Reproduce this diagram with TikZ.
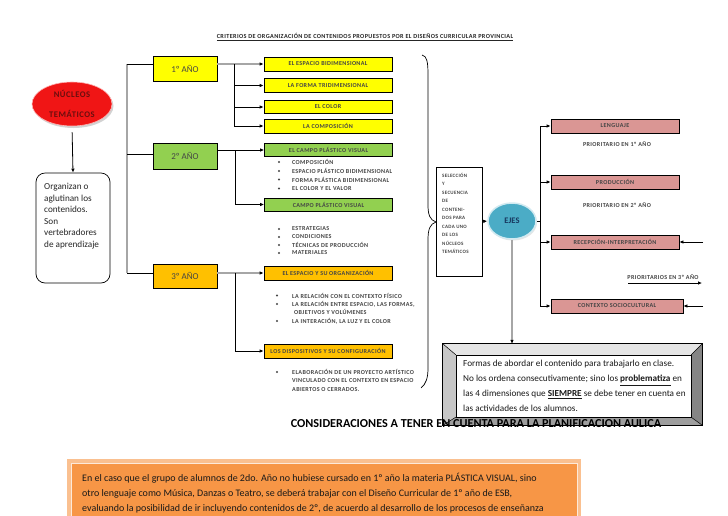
\documentclass[tikz,border=0pt]{standalone}
\usepackage{fontspec}
\setmainfont{Carlito}
\newfontfamily\capsf[LetterSpace=6]{Carlito}
\usetikzlibrary{arrows.meta,shapes.geometric,shadows,calc}
\definecolor{cyel}{HTML}{FFFF00}
\definecolor{cgrn}{HTML}{92D050}
\definecolor{corg}{HTML}{FFC000}
\definecolor{cpnk}{HTML}{DA9694}
\definecolor{cred}{HTML}{F01515}
\definecolor{cdred}{HTML}{6A0E0E}
\definecolor{cblu}{HTML}{4BACC6}
\definecolor{cnavy}{HTML}{17375E}
\definecolor{ctxt}{HTML}{454545}
\definecolor{cgray}{HTML}{A6A6A6}
\definecolor{corb}{HTML}{F79646}
\definecolor{cpeach}{HTML}{FAC090}
\definecolor{clight}{HTML}{FDE9D9}
\tikzset{
  tiny/.style={font=\capsf\bfseries\fontsize{6.1}{7}\selectfont, text=ctxt},
  cbox/.style={draw=black, line width=0.8pt, minimum width=128pt, minimum height=14pt, inner sep=0pt, tiny},
  ybox/.style={cbox, fill=cyel},
  gbox/.style={cbox, fill=cgrn},
  obox/.style={cbox, fill=corg},
  pbox/.style={cbox, fill=cpnk},
  yearbox/.style={draw=black, line width=0.8pt, minimum width=64pt, minimum height=25pt, inner sep=0pt, font=\fontsize{9}{10}\selectfont, text=ctxt},
  itm/.style={tiny, anchor=west, inner sep=0pt},
  bul/.style={circle, fill=ctxt, inner sep=0pt, minimum size=2.2pt},
  blk/.style={draw=black, line width=0.8pt},
  grayln/.style={draw=cgray, line width=1.5pt},
  arr/.style={-{Latex[length=4pt,width=3.6pt,color=black]}},
}
\begin{document}
\begin{tikzpicture}[x=1pt,y=-1pt]
\useasboundingbox (0,0) rectangle (728,515);
\clip (0,0) rectangle (728,515);
\fill[white] (0,0) rectangle (728,515);

% title
\node[tiny, font=\capsf\bfseries\fontsize{6.2}{7}\selectfont, text=black!85] (title) at (365,37) {\underline{CRITERIOS DE ORGANIZACIÓN DE CONTENIDOS PROPUESTOS POR EL DISEÑOS CURRICULAR PROVINCIAL}};

% nucleos
\node[ellipse, fill=cred, draw=red!30!white, line width=0.6pt, minimum width=80pt, minimum height=44pt, inner sep=0pt, drop shadow={shadow xshift=1.5pt, shadow yshift=-2pt, fill=black!35}, align=center, font=\capsf\bfseries\fontsize{8.6}{20}\selectfont, text=cdred] (nuc) at (72,104) {NÚCLEOS\\TEMÁTICOS};

\node[draw=black, line width=0.7pt, rounded corners=9pt, minimum width=74pt, minimum height=110pt, inner sep=0pt] (org) at (73,228) {};
\node[anchor=north west, align=left, font=\fontsize{9.2}{11.6}\selectfont, text=black!85, inner sep=0pt] (orgt) at (44,183) {Organizan o\\aglutinan los\\contenidos.\\Son\\vertebradores\\de aprendizaje};
\draw[blk, arr, shorten <=6pt] (nuc.south) -- (org.north);

% year boxes
\coordinate (tA) at (127,64);
\coordinate (tC) at (127,273);
\draw[grayln] (tA) -- (tC);
\node[yearbox, fill=cyel] (yr1) at (185,68.5) {1º AÑO};
\node[yearbox, fill=cgrn, minimum height=26pt] (yr2) at (185,156) {2º AÑO};
\node[yearbox, fill=corg, minimum height=24pt] (yr3) at (185,276) {3º AÑO};
\draw[blk] (tA) -- (tA -| yr1.west);
\draw[blk] ([yshift=2pt]yr2.west) -- ++(-26,0);
\draw[blk] (tC) -- (tC -| yr3.west);

% first year
\node[ybox] (y1) at (328,64) {EL ESPACIO BIDIMENSIONAL};
\node[ybox] (y2) at (328,85.5) {LA FORMA TRIDIMENSIONAL};
\node[ybox, minimum height=12.5pt] (y3) at (328,107) {EL COLOR};
\node[ybox] (y4) at (328,126) {LA COMPOSICIÓN};
\draw[grayln, arr] ([yshift=4.5pt]yr1.east) -- (y1.west);
\coordinate (b1) at (234,64);
\draw[blk, arr] (b1) |- (y4.west);
\draw[blk, arr] (b1 |- y2.west) -- (y2.west);
\draw[blk, arr] (b1 |- y3.west) -- (y3.west);

% second year
\node[gbox, minimum height=13pt] (g1) at (328.5,150) {EL CAMPO PLÁSTICO VISUAL};
\node[gbox, minimum height=13pt] (g2) at (328.5,204.5) {CAMPO PLÁSTICO VISUAL};
\draw[blk, arr] ([yshift=6pt]yr2.east) -- (g1.west);
\coordinate (b2) at (235,150);
\draw[blk, arr] (b2) |- (g2.west);

\node[bul] (u1a) at (279,162) {};
\node[bul] (u1b) at (279,171) {};
\node[bul] (u1c) at (279,179.5) {};
\node[bul] (u1d) at (279,188.5) {};
\node[itm] (l1a) at (292,162) {COMPOSICIÓN};
\node[itm] (l1b) at (292,171) {ESPACIO PLÁSTICO BIDIMENSIONAL};
\node[itm] (l1c) at (292,179.5) {FORMA PLÁSTICA BIDIMENSIONAL};
\node[itm] (l1d) at (292,188.5) {EL COLOR Y EL VALOR};

\node[bul] (u2a) at (279,229) {};
\node[bul] (u2b) at (279,237) {};
\node[bul] (u2c) at (279,245) {};
\node[bul] (u2d) at (279,253) {};
\node[itm] (l2a) at (292,229) {ESTRATEGIAS};
\node[itm] (l2b) at (292,237) {CONDICIONES};
\node[itm] (l2c) at (292,245) {TÉCNICAS DE PRODUCCIÓN};
\node[itm] (l2d) at (292,253) {MATERIALES};

% third year
\node[obox] (o1) at (328,273) {EL ESPACIO Y SU ORGANIZACIÓN};
\node[obox] (o2) at (328,351) {LOS DISPOSITIVOS Y SU CONFIGURACIÓN};
\draw[grayln, arr] ([yshift=3pt]yr3.east) -- (o1.west);
\coordinate (b3) at (235,273);
\draw[blk, arr] (b3) |- (o2.west);

\node[bul] (u3a) at (277,295.5) {};
\node[bul] (u3b) at (277,304) {};
\node[bul] (u3c) at (277,321) {};
\node[itm] (l3a) at (292,295.5) {LA RELACIÓN CON EL CONTEXTO FÍSICO};
\node[itm] (l3b) at (292,304) {LA RELACIÓN ENTRE ESPACIO, LAS FORMAS,};
\node[itm] (l3c) at (294,312) {OBJETIVOS Y VOLÚMENES};
\node[itm] (l3d) at (292,321) {LA INTERACIÓN, LA LUZ Y EL COLOR};

\node[bul] (u4a) at (277,372) {};
\node[itm] (l4a) at (292,372) {ELABORACIÓN DE UN PROYECTO ARTÍSTICO};
\node[itm] (l4b) at (292,380.5) {VINCULADO CON EL CONTEXTO EN ESPACIO};
\node[itm] (l4c) at (292,389.5) {ABIERTOS O CERRADOS.};

% brace
\draw[line width=0.7pt] (422,55) .. controls (427,56) and (428,62) .. (428,75) -- (428,205) .. controls (428,215) and (430,220) .. (436,222) .. controls (430,224) and (428,229) .. (428,240) -- (428,368) .. controls (428,378) and (426,384) .. (421,388);

% selection
\node[draw=black, line width=0.8pt, minimum width=46pt, minimum height=109pt, inner sep=0pt] (sel) at (459,221.5) {};
\node[anchor=north west, align=left, font=\capsf\bfseries\fontsize{5}{8.45}\selectfont, text=ctxt, inner sep=0pt] (selt) at (442,173) {SELECCIÓN\\Y\\SECUENCIA\\DE\\CONTENI-\\DOS PARA\\CADA UNO\\DE LOS\\NÚCLEOS\\TEMÁTICOS};

\node[ellipse, fill=cblu, draw=cblu!25!white, line width=1.5pt, minimum width=48pt, minimum height=36pt, inner sep=0pt, drop shadow={shadow xshift=1pt, shadow yshift=-1.5pt, fill=black!20}, font=\bfseries\fontsize{8.5}{9}\selectfont, text=cnavy] (ejes) at (512,221) {EJES};
\draw[blk, arr] (sel.east) -- (ejes.west);

% axes
\node[pbox] (p1) at (615,126) {LENGUAJE};
\node[pbox] (p2) at (615,182) {PRODUCCIÓN};
\node[pbox] (p3) at (615,242) {RECEPCIÓN-INTERPRETACIÓN};
\node[pbox, minimum width=132pt] (p4) at (617,306) {CONTEXTO SOCIOCULTURAL};
\coordinate (b4) at (540,221);
\draw[blk] (ejes.east) -- (b4);
\draw[blk, arr] (b4) |- (p1.west);
\draw[blk, arr] (b4) |- (p4.west);
\draw[blk, arr] (b4 |- p2.west) -- (p2.west);
\draw[blk, arr] (b4 |- p3.west) -- (p3.west);

\node[tiny] (pr1) at (617,144) {PRIORITARIO EN 1º AÑO};
\node[tiny] (pr2) at (617,205) {PRIORITARIO EN 2º AÑO};
\node[tiny] (pr3) at (663,277) {PRIORITARIOS EN 3º AÑO};
\coordinate (q1) at (628,283);
\coordinate (q2) at (702,283);
\draw[blk, arr] (q1) -- (q2);
\coordinate (r3) at (703,242);
\draw[blk, arr] (r3) -- (p3.east);
\coordinate (r4) at (703,306);
\draw[blk, arr] (r4) -- (p4.east);

% bevel box
\node[minimum width=259pt, minimum height=81pt, inner sep=0pt] (bev) at (572.5,384.5) {};
\node[minimum width=235pt, minimum height=62pt, inner sep=0pt] (bin) at (573.5,386) {};
\fill[black!10] (bev.north west) -- (bev.north east) -- (bin.north east) -- (bin.north west) -- cycle;
\fill[black!22] (bev.north west) -- (bin.north west) -- (bin.south west) -- (bev.south west) -- cycle;
\fill[black!48] (bev.north east) -- (bin.north east) -- (bin.south east) -- (bev.south east) -- cycle;
\fill[black!38] (bev.south west) -- (bin.south west) -- (bin.south east) -- (bev.south east) -- cycle;
\fill[white] (bin.north west) rectangle (bin.south east);
\draw[line width=0.7pt] (bev.north west) rectangle (bev.south east);
\draw[line width=0.6pt] (bin.north west) rectangle (bin.south east);
\draw[line width=0.5pt] (bev.north west) -- (bin.north west) (bev.north east) -- (bin.north east) (bev.south west) -- (bin.south west) (bev.south east) -- (bin.south east);
\node[anchor=north west, align=left, font=\fontsize{9.2}{15}\selectfont, text=black!90, inner sep=0pt] (bevt) at (463,360.3) {Formas de abordar el contenido para trabajarlo en clase.\\No los ordena consecutivamente; sino los \underline{\textbf{problematiza}} en\\las 4 dimensiones que \underline{\textbf{SIEMPRE}} se debe tener en cuenta en\\las actividades de los alumnos.};
\draw[grayln, arr] (ejes.south) -- (ejes.south |- bev.north);

\node[font=\bfseries\fontsize{12.2}{14}\selectfont, text=black] (cons) at (476,424) {CONSIDERACIONES A TENER EN CUENTA PARA LA PLANIFICACION AULICA};

% bottom note
\fill[cpeach] (67,459) rectangle (581,520);
\node[fill=corb, draw=clight, line width=0.8pt, minimum width=506pt, minimum height=60pt, inner sep=0pt, anchor=north west] (note) at (71,463) {};
\node[anchor=north west, align=left, font=\fontsize{10}{15}\selectfont, text=black!90, inner sep=0pt] (notet) at (82,472.5) {En el caso que el grupo de alumnos de 2do. Año no hubiese cursado en 1º año la materia PLÁSTICA VISUAL, sino\\otro lenguaje como Música, Danzas o Teatro, se deberá trabajar con el Diseño Curricular de 1º año de ESB,\\evaluando la posibilidad de ir incluyendo contenidos de 2º, de acuerdo al desarrollo de los procesos de enseñanza};
\end{tikzpicture}
\end{document}
